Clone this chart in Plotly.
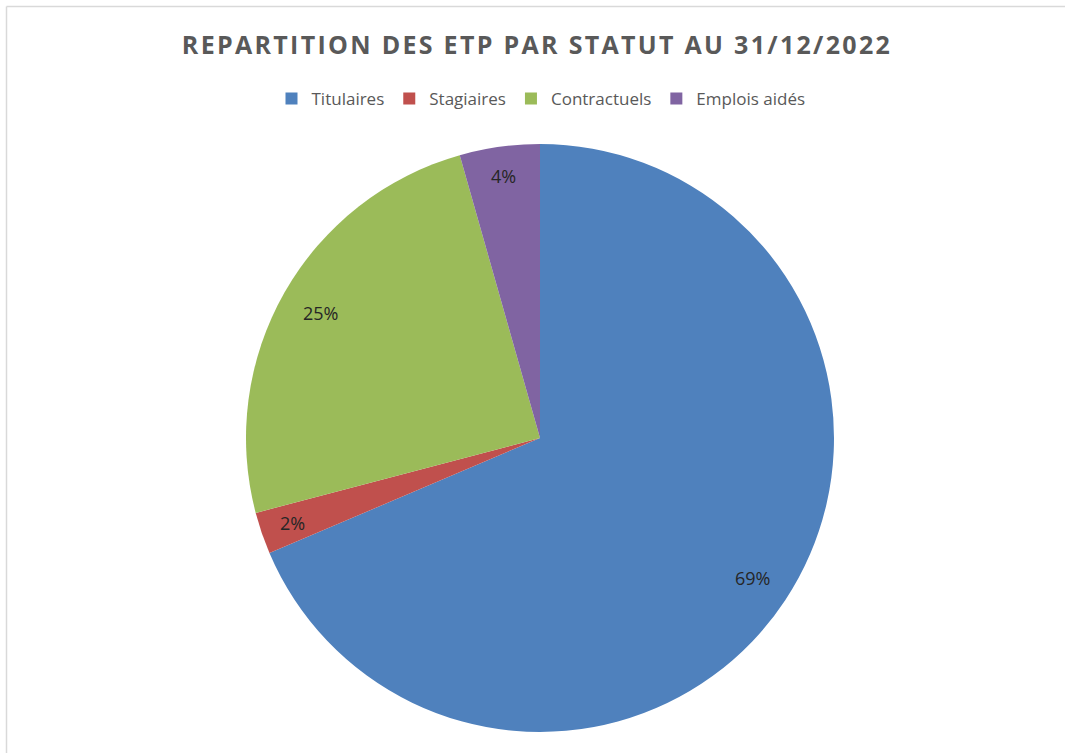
import math
import plotly.graph_objects as go

# ---- data ----
categories = ["Titulaires", "Stagiaires", "Contractuels", "Emplois aidés"]
values = [68.6, 2.3, 24.7, 4.4]
colors = ["#4F81BD", "#C0504D", "#9BBB59", "#8064A2"]
label_radius = [0.865, 0.89, 0.86, 0.90]

W, H = 1065, 753
cx, cy, r = 540, 438, 294  # pie centre / radius in pixels

FONT = "Open Sans, Calibri, sans-serif"

fig = go.Figure()
fig.add_trace(go.Pie(
    labels=categories,
    values=values,
    marker=dict(colors=colors, line=dict(width=0)),
    sort=False,
    direction="clockwise",
    rotation=0,
    textinfo="none",
    hoverinfo="label+percent",
    domain=dict(x=[(cx - r) / W, (cx + r) / W],
                y=[(H - cy - r) / H, (H - cy + r) / H]),
))

# percentage labels placed at slice mid-angles (computed from the values)
total = sum(values)
cum = 0.0
for v, f in zip(values, label_radius):
    mid = (cum + v / 2) / total * 2 * math.pi
    cum += v
    px = cx + f * r * math.sin(mid)
    py = cy - f * r * math.cos(mid)
    fig.add_annotation(
        x=px / W, y=1 - py / H, xref="paper", yref="paper",
        xanchor="center", yanchor="middle",
        text=f"{round(v / total * 100)}%", showarrow=False,
        font=dict(family=FONT, size=18, color="#262626"),
    )

# chart border (left and top visible)
fig.add_shape(type="line", xref="paper", yref="paper",
              x0=6.5 / W, x1=6.5 / W, y0=0, y1=1 - 6.5 / H,
              line=dict(color="#D9D9D9", width=1.5))
fig.add_shape(type="line", xref="paper", yref="paper",
              x0=6.5 / W, x1=1, y0=1 - 6.5 / H, y1=1 - 6.5 / H,
              line=dict(color="#D9D9D9", width=1.5))

fig.update_layout(
    width=W, height=H,
    margin=dict(l=0, r=0, t=0, b=0),
    paper_bgcolor="white",
    plot_bgcolor="white",
    title=dict(
        text="<b>REPARTITION DES ETP PAR STATUT AU 31/12/2022</b>",
        x=537 / W, xanchor="center",
        y=1 - 45 / H, yanchor="middle",
        font=dict(family=FONT, size=25, color="#595959"),
    ),
    showlegend=True,
    legend=dict(
        orientation="h",
        x=541 / W, xanchor="center",
        y=1 - 99 / H, yanchor="middle",
        font=dict(family=FONT, size=17, color="#595959"),
        itemwidth=30,
        tracegroupgap=0,
    ),
)

post = (
    "document.body.style.margin='0';"
    "var t=document.querySelector('.gtitle');"
    "if(t){t.style.letterSpacing='2.3px';}"
)
fig.write_html("out.html", post_script=post, config={"displayModeBar": False})
